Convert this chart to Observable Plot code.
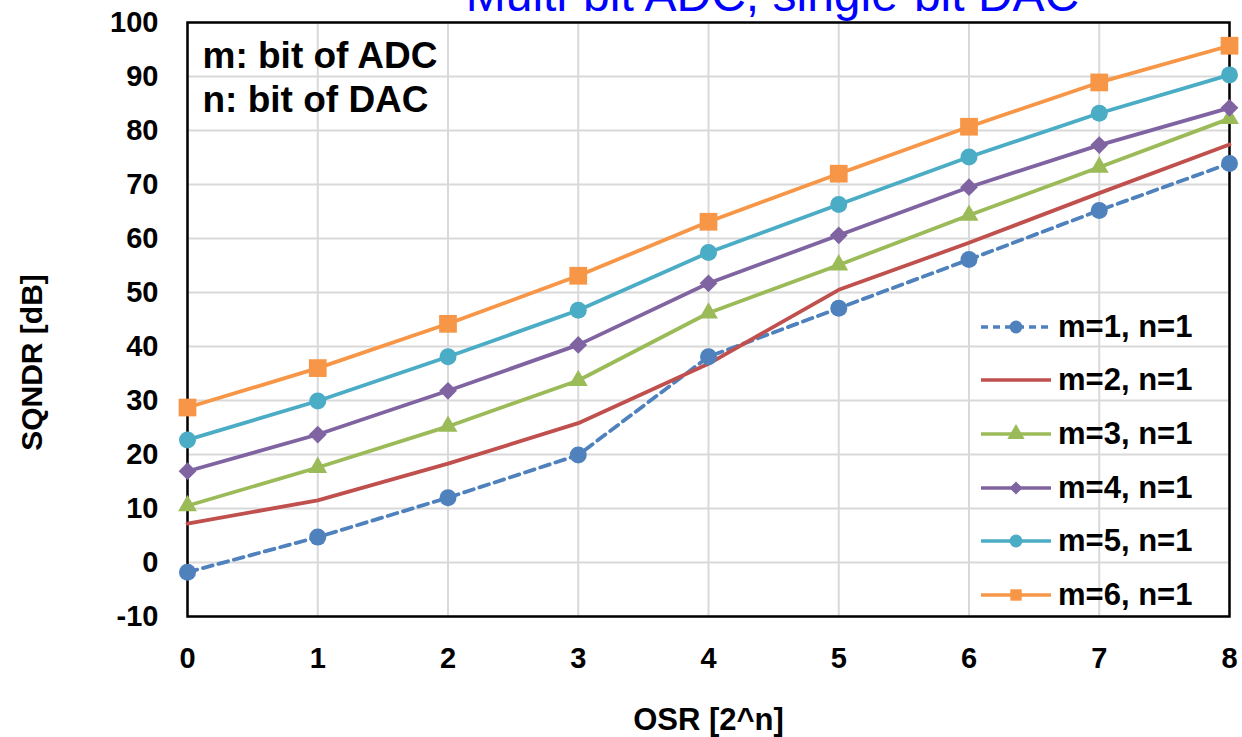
<!DOCTYPE html>
<html>
<head>
<meta charset="utf-8">
<script src="https://cdn.jsdelivr.net/npm/d3@7"></script>
<script src="https://cdn.jsdelivr.net/npm/@observablehq/plot@0.6"></script>
<style>
  html, body { margin: 0; padding: 0; background: white; overflow: hidden; }
  #wrap { position: relative; width: 1242px; height: 737px; font-family: "Liberation Sans", Arial, sans-serif; }
  #legend { position: absolute; left: 980px; top: 300px; }
  .row { display: flex; align-items: center; height: 53.6px; }
  .row span { font-weight: bold; font-size: 31px; color: #000; margin-left: 6px; }
</style>
</head>
<body>
<div id="wrap"></div>
<script>
const osr = [0, 1, 2, 3, 4, 5, 6, 7, 8];
const seriesNames = ["m=1, n=1", "m=2, n=1", "m=3, n=1", "m=4, n=1", "m=5, n=1", "m=6, n=1"];
const m1 = [-1.8, 4.7, 12.0, 19.9, 38.1, 47.1, 56.1, 65.2, 73.9];
const m2 = [7.2, 11.5, 18.3, 25.8, 36.8, 50.5, 59.2, 68.4, 77.4];
const m3 = [10.5, 17.6, 25.2, 33.7, 46.2, 55.1, 64.3, 73.2, 82.2];
const m4 = [16.9, 23.7, 31.8, 40.3, 51.7, 60.6, 69.5, 77.3, 84.2];
const m5 = [22.7, 29.9, 38.1, 46.7, 57.4, 66.3, 75.1, 83.2, 90.3];
const m6 = [28.7, 36.0, 44.2, 53.1, 63.1, 72.0, 80.7, 88.9, 95.7];
const yTicks = [-10, 0, 10, 20, 30, 40, 50, 60, 70, 80, 90, 100];
const colors = ["#4f81bd", "#c0504d", "#9bbb59", "#8064a2", "#4bacc6", "#f79646"];
const symbols = ["circle", null, "triangle", "diamond2", "circle", "square"];
const dashes = ["10,6", null, null, null, null, null];
const title = "Multi-bit ADC, single-bit DAC";
const note = ["m: bit of ADC", "n: bit of DAC"];
const xLabel = "OSR [2^n]";
const yLabel = "SQNDR [dB]";

const allSeries = [m1, m2, m3, m4, m5, m6];
const data = [];
allSeries.forEach((vals, i) => vals.forEach((v, j) => data.push({s: i, name: seriesNames[i], x: osr[j], y: v})));

const font = "Liberation Sans, Arial, sans-serif";
const symR = {circle: 8.5, triangle: 7, diamond2: 8, square: 10};
const marks = [
  Plot.gridX(osr, {stroke: "#d9d9d9", strokeOpacity: 1, strokeWidth: 2}),
  Plot.gridY(yTicks, {stroke: "#d9d9d9", strokeOpacity: 1, strokeWidth: 2}),
  Plot.frame({stroke: "#000", strokeWidth: 2.5}),
  Plot.axisX(osr, {tickSize: 0, tickPadding: 31, fontSize: 29, fontWeight: "bold", label: null, fill: "#000", tickFormat: d => String(d)}),
  Plot.axisY(yTicks, {tickSize: 0, tickPadding: 29, fontSize: 29, fontWeight: "bold", label: null, fill: "#000", tickFormat: d => String(d)})
];
allSeries.forEach((vals, i) => {
  const d = data.filter(r => r.s === i);
  marks.push(Plot.line(d, {x: "x", y: "y", stroke: colors[i], strokeWidth: 3.8, strokeDasharray: dashes[i] || undefined, curve: "linear"}));
});
allSeries.forEach((vals, i) => {
  if (!symbols[i]) return;
  const d = data.filter(r => r.s === i);
  marks.push(Plot.dot(d, {x: "x", y: "y", fill: colors[i], stroke: "none", symbol: () => symbols[i], r: symR[symbols[i]]}));
});
marks.push(
  Plot.text([note[0]], {frameAnchor: "top-left", lineAnchor: "middle", textAnchor: "start", dx: 15, dy: 33.5, text: d => d, fontSize: 37, fontWeight: "bold", fill: "#000"}),
  Plot.text([note[1]], {frameAnchor: "top-left", lineAnchor: "middle", textAnchor: "start", dx: 15, dy: 77.5, text: d => d, fontSize: 37, fontWeight: "bold", fill: "#000"}),
  Plot.text([xLabel], {frameAnchor: "bottom", lineAnchor: "middle", textAnchor: "middle", dy: 104, text: d => d, fontSize: 31, fontWeight: "bold", fill: "#000"}),
  Plot.text([yLabel], {frameAnchor: "left", lineAnchor: "middle", textAnchor: "middle", dx: -155, dy: 43, rotate: -90, text: d => d, fontSize: 30, fontWeight: "bold", fill: "#000"}),
  Plot.text([title], {frameAnchor: "top", lineAnchor: "middle", textAnchor: "middle", dx: 64, dy: -26.5, text: d => d, fontSize: 48, fill: "#0000ff"})
);

const chart = Plot.plot({
  width: 1242,
  height: 737,
  marginLeft: 187,
  marginRight: 13,
  marginTop: 22,
  marginBottom: 121,
  style: {fontFamily: font, background: "white", overflow: "visible"},
  x: {domain: [0, 8], ticks: osr},
  y: {domain: [-10, 100], ticks: yTicks},
  marks
});
const wrap = document.getElementById("wrap");
wrap.appendChild(chart);

// Legend built from the series arrays
const symMap = {circle: d3.symbolCircle, triangle: d3.symbolTriangle, diamond2: d3.symbolDiamond2, square: d3.symbolSquare};
const legend = d3.select(wrap).append("div").attr("id", "legend");
seriesNames.forEach((name, i) => {
  const row = legend.append("div").attr("class", "row");
  const svg = row.append("svg").attr("width", 72).attr("height", 20);
  svg.append("line").attr("x1", 1).attr("x2", 71).attr("y1", 10).attr("y2", 10)
    .attr("stroke", colors[i]).attr("stroke-width", 3.5)
    .attr("stroke-dasharray", dashes[i] ? "7,5" : null);
  if (symbols[i]) {
    svg.append("path").attr("transform", "translate(36,10)")
      .attr("d", d3.symbol(symMap[symbols[i]], symbols[i] === "diamond2" ? 110 : 130)())
      .attr("fill", colors[i]);
  }
  row.append("span").text(name);
});
</script>
</body>
</html>
